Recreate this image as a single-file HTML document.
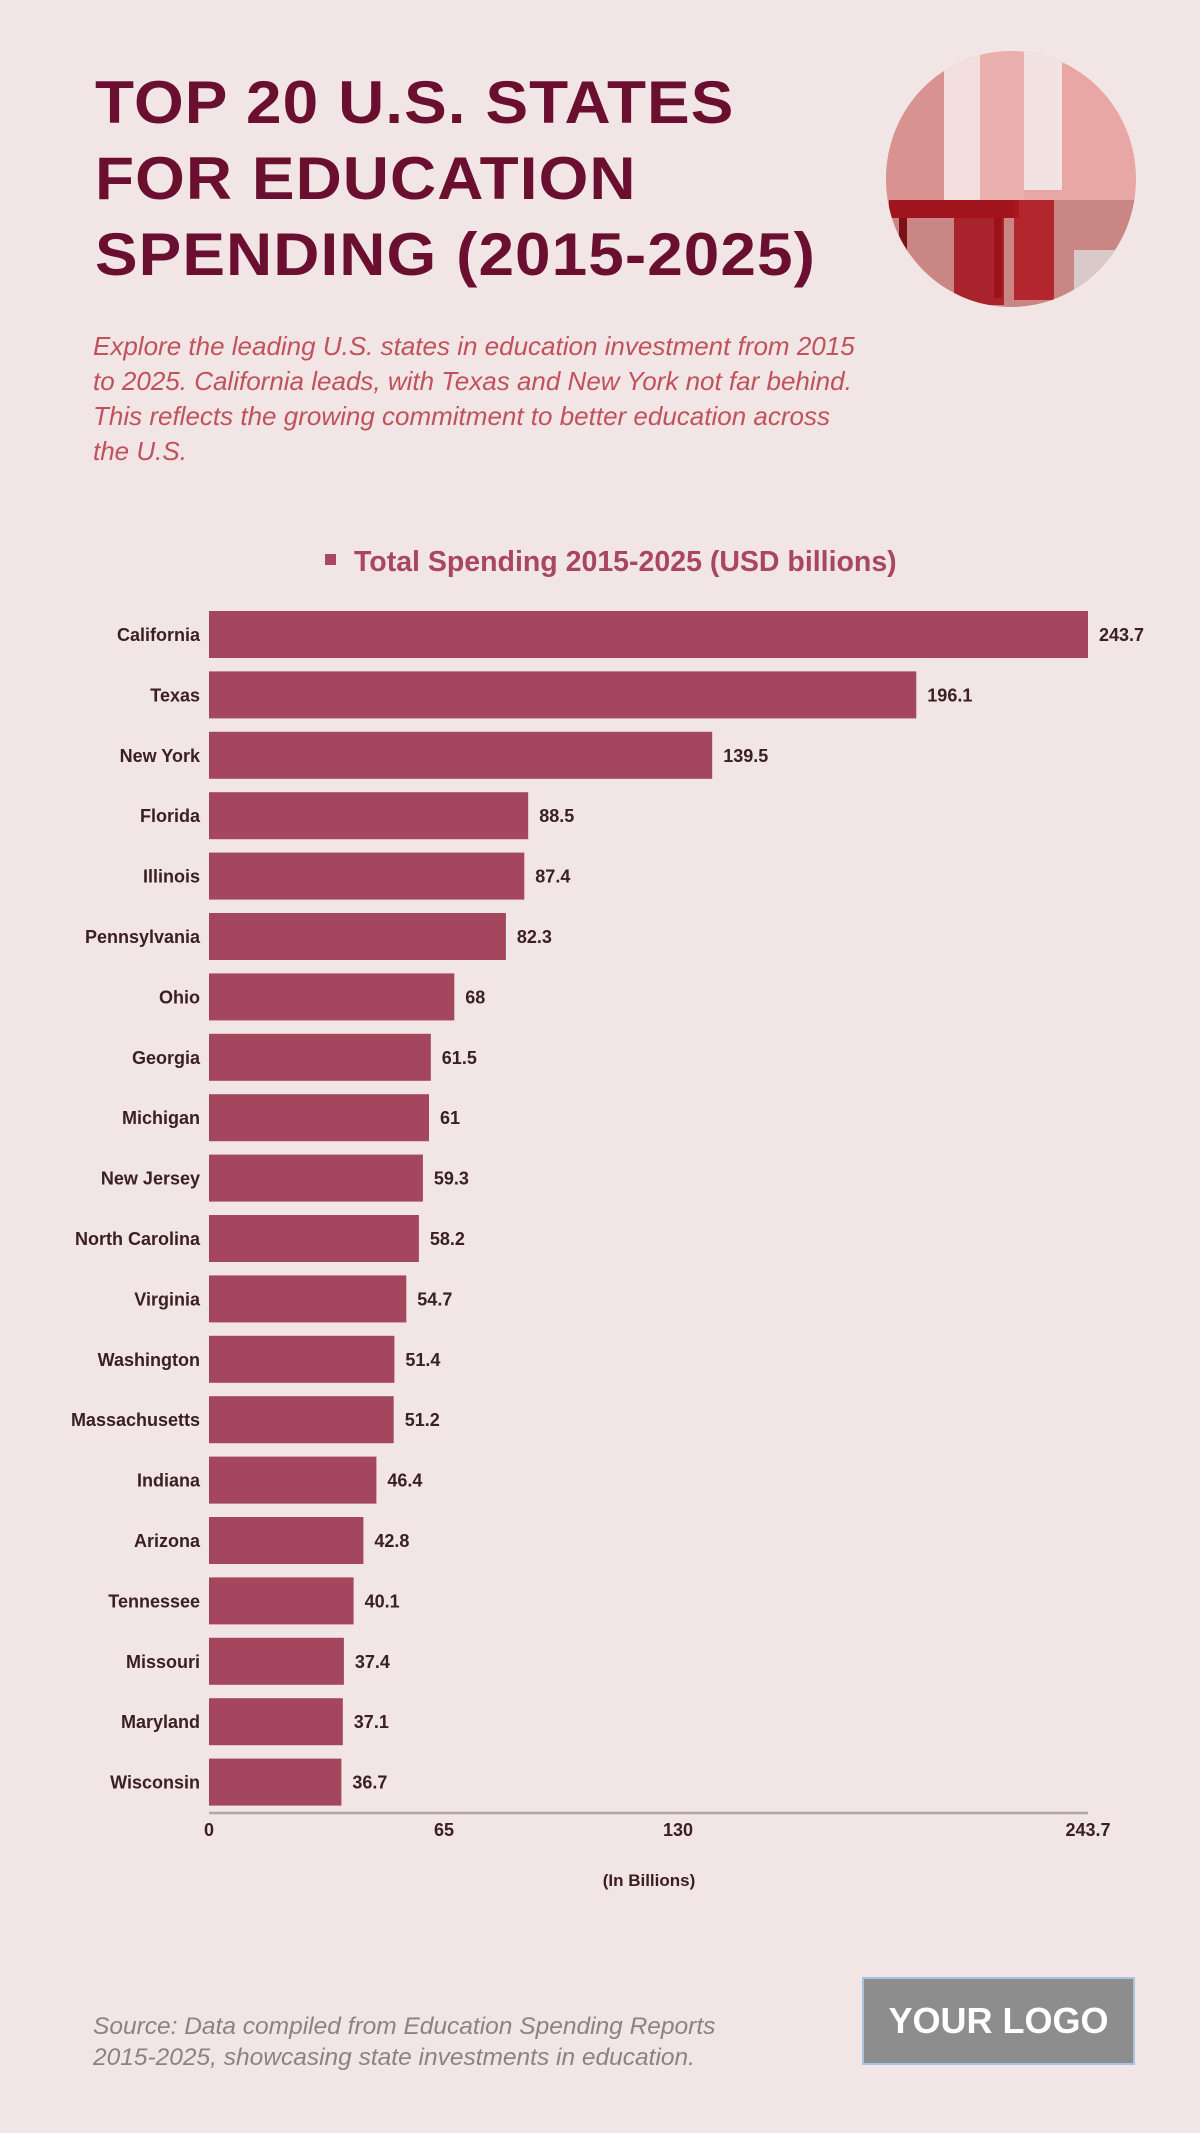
<!DOCTYPE html>
<html><head><meta charset="utf-8"><style>
*{margin:0;padding:0;box-sizing:border-box}
body{width:1200px;height:2133px;background:#f2e5e6;font-family:"Liberation Sans",sans-serif;position:relative;overflow:hidden}
.t{position:absolute;left:95px;top:65px;font-weight:bold;font-size:60px;line-height:76px;color:#6a0f30;letter-spacing:1px;transform:scaleX(1.065);transform-origin:left;white-space:nowrap}
.p{position:absolute;left:93px;top:329px;width:780px;font-style:italic;font-size:26px;line-height:35px;color:#c0525c}
.lg{position:absolute;left:325px;top:546px;font-weight:bold;font-size:28.5px;color:#a8475f;white-space:nowrap}
.lg span{display:inline-block;width:11px;height:11px;background:#a8475f;margin-right:18px;vertical-align:6px}
.src{position:absolute;left:93px;top:2011px;font-style:italic;font-size:24.5px;line-height:31px;color:#8a8384;white-space:nowrap}
.logo{position:absolute;left:862px;top:1977px;width:273px;height:88px;background:#8e8d8d;border:2px solid #a9c4df;color:#fff;font-weight:bold;font-size:36px;text-align:center;line-height:84px}
</style></head><body>
<div class="t">TOP 20 U.S. STATES<br>FOR EDUCATION<br>SPENDING (2015-2025)</div>
<svg style="position:absolute;left:884px;top:50px" width="256" height="258">
<defs><clipPath id="c"><ellipse cx="127" cy="129" rx="125" ry="128"/></clipPath></defs>
<g clip-path="url(#c)">
<rect width="256" height="258" fill="#e8a7a4"/>
<rect x="0" y="0" width="60" height="258" fill="#d8928f"/>
<rect x="60" y="0" width="36" height="150" fill="#f3dede"/>
<rect x="140" y="0" width="38" height="140" fill="#f3e2e2"/>
<rect x="96" y="0" width="44" height="160" fill="#e9b0ad"/>
<rect x="0" y="150" width="256" height="108" fill="#c98684"/>
<rect x="5" y="150" width="130" height="18" fill="#a0141e"/>
<rect x="15" y="168" width="8" height="80" fill="#7c0f18"/>
<rect x="110" y="168" width="8" height="80" fill="#7c0f18"/>
<rect x="70" y="165" width="50" height="90" fill="#a3121c" opacity=".85"/>
<rect x="130" y="150" width="40" height="100" fill="#b0151f" opacity=".85"/>
<rect x="190" y="200" width="66" height="58" fill="#d9c9c9"/>
</g></svg>
<div class="p">Explore the leading U.S. states in education investment from 2015 to 2025. California leads, with Texas and New York not far behind. This reflects the growing commitment to better education across the U.S.</div>
<div class="lg"><span></span>Total Spending 2015-2025 (USD billions)</div>
<svg style="position:absolute;left:0;top:590px" width="1200" height="1320" font-family="Liberation Sans, sans-serif" font-weight="bold" font-size="18">
<g fill="#a3465e">
<rect x="209" y="21" width="879" height="47"/>
<rect x="209" y="81.4" width="707.3" height="47"/>
<rect x="209" y="141.8" width="503.2" height="47"/>
<rect x="209" y="202.2" width="319.2" height="47"/>
<rect x="209" y="262.6" width="315.3" height="47"/>
<rect x="209" y="323" width="296.9" height="47"/>
<rect x="209" y="383.4" width="245.3" height="47"/>
<rect x="209" y="443.8" width="221.8" height="47"/>
<rect x="209" y="504.2" width="220" height="47"/>
<rect x="209" y="564.6" width="213.9" height="47"/>
<rect x="209" y="625" width="209.9" height="47"/>
<rect x="209" y="685.4" width="197.3" height="47"/>
<rect x="209" y="745.8" width="185.4" height="47"/>
<rect x="209" y="806.2" width="184.7" height="47"/>
<rect x="209" y="866.6" width="167.4" height="47"/>
<rect x="209" y="927" width="154.4" height="47"/>
<rect x="209" y="987.4" width="144.6" height="47"/>
<rect x="209" y="1047.8" width="134.9" height="47"/>
<rect x="209" y="1108.2" width="133.8" height="47"/>
<rect x="209" y="1168.6" width="132.4" height="47"/>
</g>
<g fill="#3a2020" text-anchor="end">
<text x="200" y="51">California</text>
<text x="200" y="111.4">Texas</text>
<text x="200" y="171.8">New York</text>
<text x="200" y="232.2">Florida</text>
<text x="200" y="292.6">Illinois</text>
<text x="200" y="353">Pennsylvania</text>
<text x="200" y="413.4">Ohio</text>
<text x="200" y="473.8">Georgia</text>
<text x="200" y="534.2">Michigan</text>
<text x="200" y="594.6">New Jersey</text>
<text x="200" y="655">North Carolina</text>
<text x="200" y="715.4">Virginia</text>
<text x="200" y="775.8">Washington</text>
<text x="200" y="836.2">Massachusetts</text>
<text x="200" y="896.6">Indiana</text>
<text x="200" y="957">Arizona</text>
<text x="200" y="1017.4">Tennessee</text>
<text x="200" y="1077.8">Missouri</text>
<text x="200" y="1138.2">Maryland</text>
<text x="200" y="1198.6">Wisconsin</text>
</g>
<g fill="#3a2020">
<text x="1099" y="51">243.7</text>
<text x="927.3" y="111.4">196.1</text>
<text x="723.2" y="171.8">139.5</text>
<text x="539.2" y="232.2">88.5</text>
<text x="535.3" y="292.6">87.4</text>
<text x="516.9" y="353">82.3</text>
<text x="465.3" y="413.4">68</text>
<text x="441.8" y="473.8">61.5</text>
<text x="440" y="534.2">61</text>
<text x="433.9" y="594.6">59.3</text>
<text x="429.9" y="655">58.2</text>
<text x="417.3" y="715.4">54.7</text>
<text x="405.4" y="775.8">51.4</text>
<text x="404.7" y="836.2">51.2</text>
<text x="387.4" y="896.6">46.4</text>
<text x="374.4" y="957">42.8</text>
<text x="364.6" y="1017.4">40.1</text>
<text x="354.9" y="1077.8">37.4</text>
<text x="353.8" y="1138.2">37.1</text>
<text x="352.4" y="1198.6">36.7</text>
</g>
<line x1="209" y1="1223" x2="1088" y2="1223" stroke="#b3a6a6" stroke-width="2.5"/>
<g fill="#3a2020" text-anchor="middle" font-size="18">
<text x="209" y="1246">0</text><text x="444" y="1246">65</text><text x="678" y="1246">130</text><text x="1088" y="1246">243.7</text>
<text x="649" y="1296" font-size="17">(In Billions)</text></g>
</svg>
<div class="src">Source: Data compiled from Education Spending Reports<br>2015-2025, showcasing state investments in education.</div>
<div class="logo">YOUR LOGO</div>
</body></html>
